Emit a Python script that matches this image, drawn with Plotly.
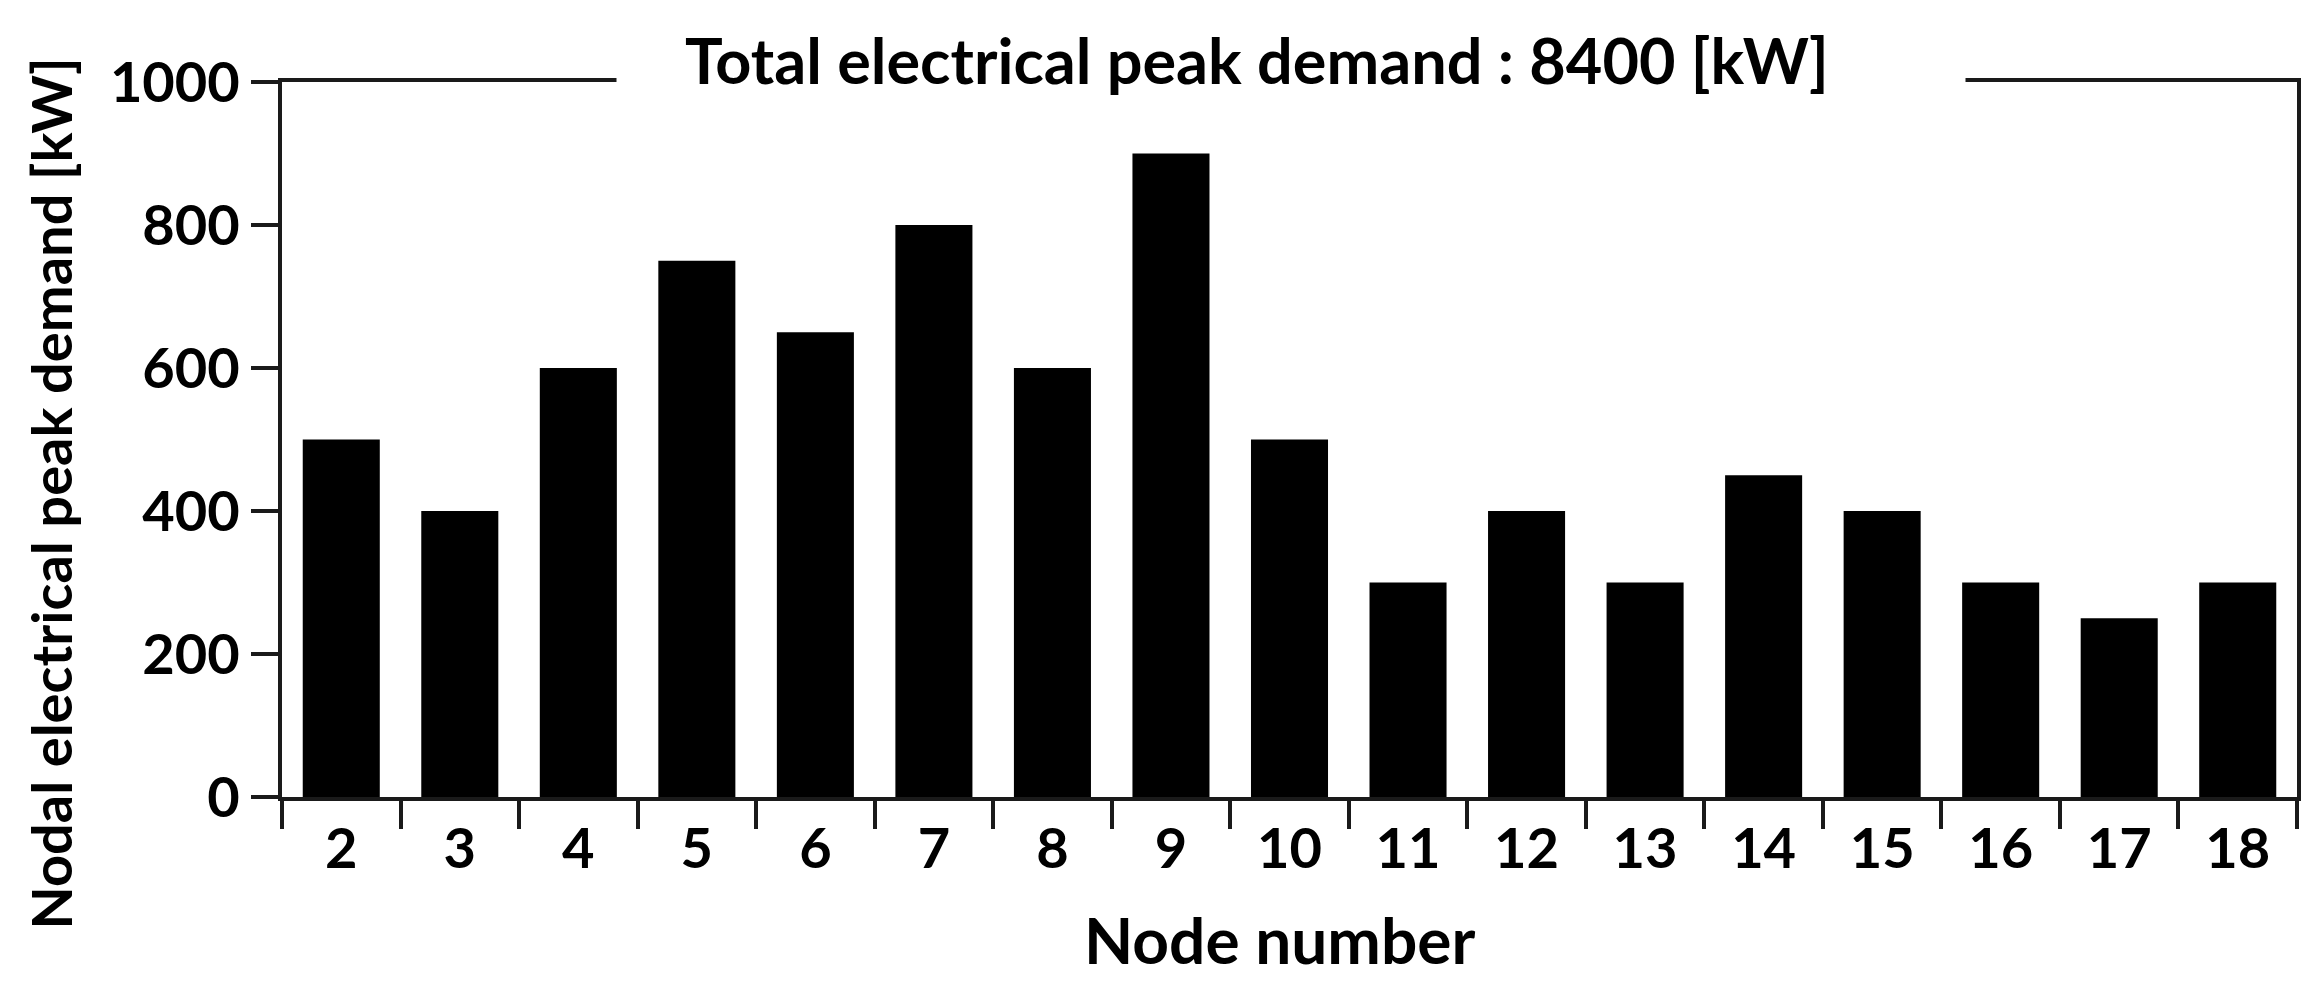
import plotly.graph_objects as go

nodes = ["2", "3", "4", "5", "6", "7", "8", "9", "10", "11", "12", "13", "14", "15", "16", "17", "18"]
demand_kw = [500, 400, 600, 750, 650, 800, 600, 900, 500, 300, 400, 300, 450, 400, 300, 250, 300]
y_ticks = [0, 200, 400, 600, 800, 1000]
title_text = "Total electrical peak demand : 8400 [kW]"
x_title = "Node number"
y_title = "Nodal electrical peak demand [kW]"

FONT = "Lato"
LINE = "#1a1a1a"

fig = go.Figure()
fig.add_trace(go.Bar(x=nodes, y=demand_kw, marker=dict(color="black", line=dict(width=0)),
                     showlegend=False))

fig.update_layout(
    width=2324, height=989,
    margin=dict(l=274, r=35, t=74, b=200, autoexpand=False),
    paper_bgcolor="white", plot_bgcolor="white",
    bargap=0.35,
    font=dict(family=FONT, color="black", size=56, weight=700),
)
fig.update_xaxes(
    type="category", tickson="boundaries", ticks="outside", ticklen=28, tickwidth=3.5,
    tickcolor=LINE, showline=True, linecolor=LINE, linewidth=4, mirror=True,
    showgrid=False, zeroline=False, automargin=False,
    tickfont=dict(family=FONT, size=56, weight=700),
)
fig.update_yaxes(
    range=[0, 1000], tickvals=y_ticks, ticks="outside", ticklen=27, tickwidth=3.5,
    tickcolor=LINE, showline=True, linecolor=LINE, linewidth=4, mirror=True,
    showgrid=False, zeroline=False, automargin=False,
    tickfont=dict(family=FONT, size=56, weight=700),
)
# axis titles
fig.add_annotation(xref="paper", yref="paper", x=0.495, y=-0.199, xanchor="center", yanchor="middle",
                   text=x_title, showarrow=False,
                   font=dict(family=FONT, size=64, weight=700, color="black"))
fig.add_annotation(xref="paper", yref="paper", x=-0.115, y=0.425, xanchor="center", yanchor="middle",
                   text=y_title, textangle=-90, showarrow=False,
                   font=dict(family=FONT, size=56, weight=700, color="black"))
# white gap in the top frame line behind the title
fig.add_annotation(xref="paper", yref="paper", x=0.5007, y=1, xanchor="center", yanchor="middle",
                   text=" ", width=1348, height=20, bgcolor="white", showarrow=False, borderpad=0)
fig.add_annotation(xref="paper", yref="paper", x=0.484, y=1.032, xanchor="center", yanchor="middle",
                   text=title_text, showarrow=False,
                   font=dict(family=FONT, size=63, weight=700, color="black"))

fig.write_html("out.html")
